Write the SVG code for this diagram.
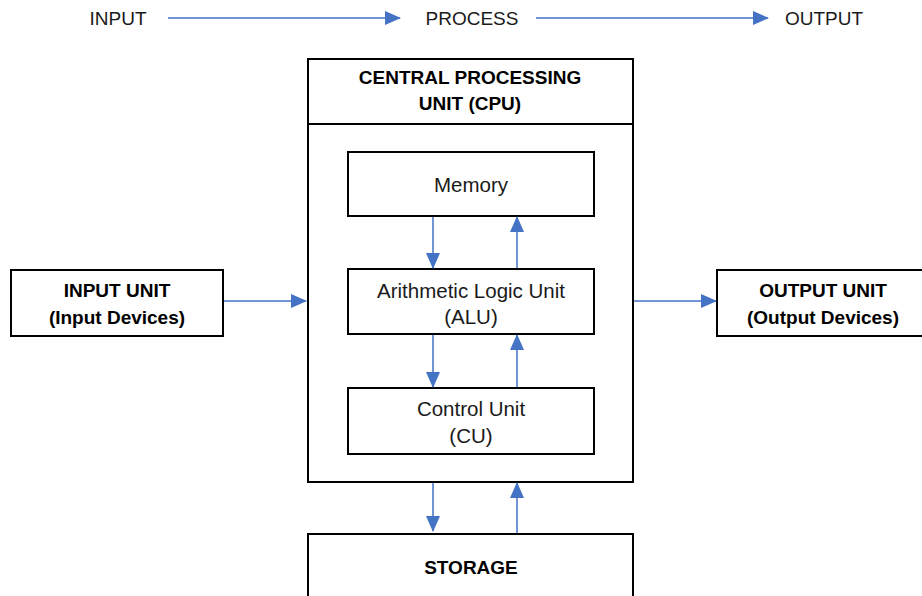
<svg xmlns="http://www.w3.org/2000/svg" width="922" height="596" viewBox="0 0 922 596">
<style>
.box{fill:#fff;stroke:#000;stroke-width:2}
.t{font-family:"Liberation Sans",Arial,sans-serif;font-size:19px;fill:#1a1a1a;text-anchor:middle}
.r{font-size:20.5px}
.b{font-weight:bold;font-size:19px;fill:#000}
.c{fill:none;stroke:#4472C4;stroke-width:1.5}
</style>
<defs>
<marker id="ah" markerUnits="userSpaceOnUse" markerWidth="16" markerHeight="16" viewBox="0 0 16 16" refX="15" refY="8" orient="auto">
<path d="M0,1 L16,8 L0,15 Z" fill="#4472C4"/>
</marker>
</defs>
<rect width="922" height="596" fill="#fff"/>
<g id="top-labels">
<text class="t" x="118" y="25">INPUT</text>
<text class="t" x="472" y="25">PROCESS</text>
<text class="t" x="824" y="25">OUTPUT</text>
</g>
<g id="cpu">
<rect class="box" x="308" y="59" width="325" height="423"/>
<line x1="308" y1="124" x2="633" y2="124" stroke="#000" stroke-width="2"/>
<text class="t b" x="470" y="84">CENTRAL PROCESSING</text>
<text class="t b" x="470" y="110">UNIT (CPU)</text>
</g>
<g id="memory">
<rect class="box" x="348" y="152" width="246" height="64"/>
<text class="t r" x="471" y="192">Memory</text>
</g>
<g id="alu">
<rect class="box" x="348" y="269" width="246" height="65"/>
<text class="t r" x="471" y="298">Arithmetic Logic Unit</text>
<text class="t r" x="471" y="324">(ALU)</text>
</g>
<g id="cu">
<rect class="box" x="348" y="388" width="246" height="66"/>
<text class="t r" x="471" y="416">Control Unit</text>
<text class="t r" x="471" y="443">(CU)</text>
</g>
<g id="input-unit">
<rect class="box" x="11" y="270" width="212" height="66"/>
<text class="t b" x="117" y="297">INPUT UNIT</text>
<text class="t b" x="117" y="324">(Input Devices)</text>
</g>
<g id="output-unit">
<rect class="box" x="717" y="270" width="215" height="66"/>
<text class="t b" x="823" y="297">OUTPUT UNIT</text>
<text class="t b" x="823" y="324">(Output Devices)</text>
</g>
<g id="storage">
<rect class="box" x="308" y="534" width="325" height="80"/>
<text class="t b" x="471" y="574">STORAGE</text>
</g>
<g id="connectors">
<line class="c" x1="168" y1="18" x2="400" y2="18" marker-end="url(#ah)"/>
<line class="c" x1="536" y1="18" x2="768" y2="18" marker-end="url(#ah)"/>
<line class="c" x1="224" y1="301" x2="306" y2="301" marker-end="url(#ah)"/>
<line class="c" x1="634" y1="301" x2="716" y2="301" marker-end="url(#ah)"/>
<line class="c" x1="433" y1="217" x2="433" y2="268" marker-end="url(#ah)"/>
<line class="c" x1="517" y1="268" x2="517" y2="217" marker-end="url(#ah)"/>
<line class="c" x1="433" y1="335" x2="433" y2="387" marker-end="url(#ah)"/>
<line class="c" x1="517" y1="387" x2="517" y2="335" marker-end="url(#ah)"/>
<line class="c" x1="433" y1="483" x2="433" y2="531" marker-end="url(#ah)"/>
<line class="c" x1="517" y1="533" x2="517" y2="483" marker-end="url(#ah)"/>
</g>
</svg>
